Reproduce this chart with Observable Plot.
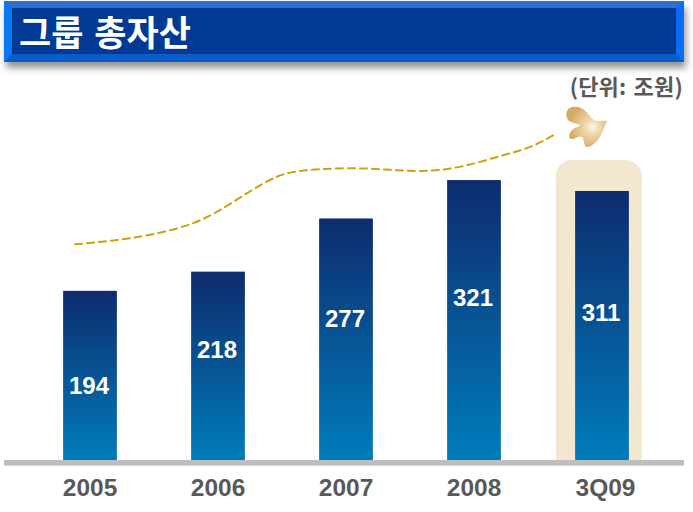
<!DOCTYPE html>
<html><head><meta charset="utf-8">
<script src="https://cdn.jsdelivr.net/npm/d3@7"></script>
<script src="https://cdn.jsdelivr.net/npm/@observablehq/plot@0.6"></script>
<style>
html,body{margin:0;padding:0;background:#fff}
#wrap{position:relative;width:693px;height:512px;overflow:hidden}
#banner{position:absolute;left:4px;top:1px;width:664px;height:46px;box-sizing:content-box;background:#003a94;
border-style:solid;border-width:7px 8px 8px 8px;border-color:#2f6fd0 #0a6cf2 #0a5cc8 #0a78f5;box-shadow:2px 6px 7px rgba(0,0,0,.42);
color:#fff;font:700 35px "Noto Sans CJK KR";line-height:45px;text-indent:7px;word-spacing:3px;white-space:nowrap}
#unit{position:absolute;right:10px;top:69px;color:#595959;font:700 22px "Noto Sans CJK KR";line-height:32px;letter-spacing:.2px;word-spacing:2px;white-space:nowrap}
#chart{position:absolute;left:0;top:0}
svg{display:block}
</style></head><body>
<div id="wrap"><div id="chart"></div><div id="banner">그룹 총자산</div><div id="unit">(단위: 조원)</div></div>
<script>
const categories = ["2005","2006","2007","2008","3Q09"];
const values = [194,218,277,321,311];
const barLevels = [194,216,277,321,308.5];
const labelLevels = [85,126,162,186,169];
const positions = [0,1,2,3,4];
const trendX = [-0.12,0.16,0.47,0.78,1.02,1.25,1.45,1.64,1.95,2.27,2.58,2.89,3.2,3.44,3.63];
const trendY = [248,252,259,271,288,309,325,332,335,334,332,337,349,360,374];
const highlightTop = 344;
const highlightShoulder = 300;

const rows = categories.map((c,i)=>({c,v:values[i],h:barLevels[i],x:positions[i],l:labelLevels[i]}));
const trend = trendX.map((x,i)=>({x,y:trendY[i]}));
const font = "Liberation Sans";

const defs = () => {
  const d = d3.create("svg:defs");
  const g = d.append("linearGradient").attr("id","barGrad").attr("x1",0).attr("y1",0).attr("x2",0).attr("y2",1);
  g.append("stop").attr("offset","0").attr("stop-color","#0e2c6e");
  g.append("stop").attr("offset","1").attr("stop-color","#007cbb");
  const r = d.append("radialGradient").attr("id","birdGrad").attr("cx",0.64).attr("cy",0.5).attr("r",0.58);
  r.append("stop").attr("offset","0").attr("stop-color","#fbf6ea");
  r.append("stop").attr("offset","0.35").attr("stop-color","#edd6a8");
  r.append("stop").attr("offset","1").attr("stop-color","#d6aa60");
  const f = d.append("filter").attr("id","soft");
  f.append("feGaussianBlur").attr("stdDeviation",0.5);
  return d.node();
};
const bird = () => d3.create("svg:path")
  .attr("fill","url(#birdGrad)").attr("filter","url(#soft)")
  .attr("d","M567 111C569 106 576 106 581 108C587 111 590 117 594 120C597 122 602 120 607 121C604 128 602 134 598 140C594 144 591 147 587 147C583 146 585 140 582 137C579 135 576 139 571 139C568 138 569 133 572 130C575 127 579 127 580 125C576 123 571 123 568 120C566 117 566 113 567 111Z")
  .node();

const chart = Plot.plot({
  width:693,height:512,margin:0,
  x:{type:"linear",domain:[-90/128,(693-90)/128],range:[0,693],axis:null},
  y:{type:"linear",domain:[-52/0.872,460/0.872],range:[512,0],axis:null},
  marks:[
    defs,
    Plot.rect([4],{x1:d=>d-0.36,x2:d=>d+0.31,y1:highlightShoulder,y2:highlightTop,fill:"#f3e7cf",rx:16}),
    Plot.rect([4],{x1:d=>d-0.36,x2:d=>d+0.31,y1:0,y2:highlightTop-16,fill:"#f3e7cf"}),
    Plot.rectY(rows,{x1:d=>d.x-0.21,x2:d=>d.x+0.21,y1:0,y2:"h",fill:"url(#barGrad)"}),
    Plot.rect([0],{x1:(4-90)/128,x2:(684-90)/128,y1:-6.5,y2:0,fill:"#bfbfbf"}),
    Plot.line(trend,{x:"x",y:"y",curve:"natural",stroke:"#cfa010",strokeWidth:2,strokeDasharray:"7,5"}),
    bird,
    Plot.text(rows,{x:"x",y:"l",dx:-1.5,text:d=>String(d.v),fill:"#fff",fontWeight:700,fontSize:24,fontFamily:font}),
    Plot.text(rows.slice(0,4),{x:"x",y:-32,dx:-0.5,text:"c",fill:"#595959",fontWeight:700,fontSize:24.5,fontFamily:font}),
    Plot.text(rows.slice(4),{x:"x",y:-32,dx:3,text:"c",fill:"#595959",fontWeight:700,fontSize:24.5,fontFamily:font})
  ]
});
document.getElementById("chart").append(chart);
</script></body></html>
